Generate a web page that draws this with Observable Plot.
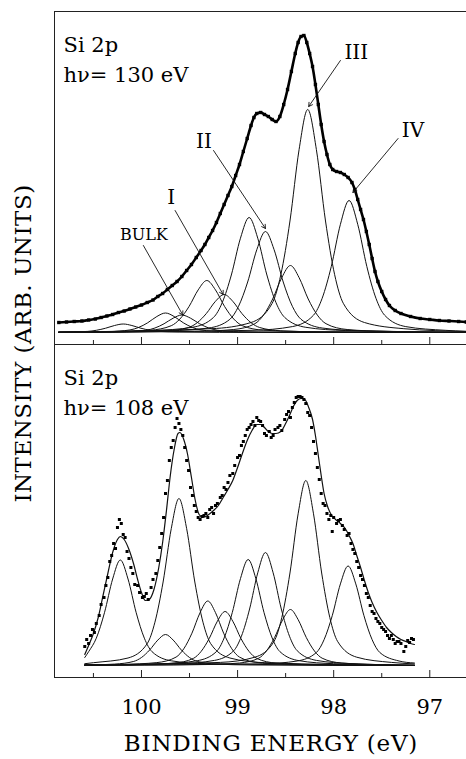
<!DOCTYPE html>
<html><head><meta charset="utf-8">
<script src="https://cdn.jsdelivr.net/npm/d3@7"></script>
<script src="https://cdn.jsdelivr.net/npm/@observablehq/plot@0.6"></script>
<style>
html,body{margin:0;padding:0;background:#fff;}
#wrap{position:relative;width:466px;height:759px;overflow:hidden;background:#fff;}
#wrap svg{display:block;}
#titles{position:absolute;left:0;top:0;pointer-events:none;}
</style></head>
<body><div id="wrap"></div>
<script>
const FONT = "'DejaVu Serif', serif";
const panels = ["130 eV", "108 eV"];
const panelText = ["Si 2p\nhν= 130 eV", "Si 2p\nhν= 108 eV"];
const majorTicks = [100, 99, 98, 97];
const minorTicks = [100.5, 99.5, 98.5, 97.5];
const xTitle = "BINDING ENERGY (eV)";
const yTitle = "INTENSITY (ARB. UNITS)";

// ---- hv = 130 eV : measured spectrum [binding energy, intensity]
const data130 = [[100.86,10],[100.78,10.5],[100.70,11],[100.62,11.5],[100.55,12.5],[100.48,13.5],[100.42,15],[100.36,16.5],[100.30,18],[100.24,20],[100.18,21.5],[100.12,23.5],[100.06,25.5],[100.00,27.5],[99.94,30],[99.88,32.5],[99.83,36],[99.78,39],[99.73,43],[99.68,47],[99.63,51],[99.58,56],[99.53,62],[99.48,68],[99.43,75],[99.38,82],[99.34,88],[99.30,95],[99.26,102],[99.22,110],[99.18,119],[99.14,128],[99.10,137],[99.06,146],[99.02,157],[98.98,168],[98.94,181],[98.90,194],[98.86,207],[98.83,215],[98.80,219],[98.76,220],[98.72,218],[98.68,216],[98.64,213],[98.60,211],[98.56,216],[98.52,228],[98.48,243],[98.44,261],[98.40,279],[98.37,290],[98.34,296],[98.31,297],[98.28,290],[98.25,279],[98.22,266],[98.19,248],[98.16,228],[98.13,208],[98.10,191],[98.07,178],[98.04,168],[98.01,163],[97.97,161],[97.93,160],[97.89,158],[97.85,155],[97.81,150],[97.78,143],[97.75,133],[97.72,123],[97.69,113],[97.66,101],[97.63,88],[97.60,74],[97.57,61],[97.54,51],[97.50,41],[97.46,33],[97.42,27],[97.36,22],[97.30,19],[97.20,16],[97.10,14],[97.00,13],[96.90,12],[96.80,11.5],[96.70,11],[96.62,10.5]];

// ---- hv = 130 eV : fitted components (2p3/2 "b", 2p1/2 "a")
const bulkA130 = [[100.86,0.3],[100.78,0.38],[100.56,1.1],[100.47,2.2],[100.375,4.25],[100.28,7.0],[100.19,8.5],[100.10,7.0],[100.005,4.25],[99.91,2.2],[99.82,1.1],[99.60,0.38],[99.19,0.14],[96.62,0]];
const bulkB130 = [[100.86,0.1],[100.58,0.3],[100.17,0.79],[99.95,2.3],[99.86,4.5],[99.765,8.75],[99.67,14.35],[99.58,17.5],[99.49,14.35],[99.395,8.75],[99.30,4.5],[99.21,2.3],[98.99,0.79],[98.58,0.3],[96.62,0]];
const iA130 = [[100.86,0.15],[100.75,0.33],[100.34,0.88],[100.12,2.55],[100.03,5.05],[99.935,9.75],[99.84,16],[99.75,19.5],[99.66,16],[99.565,9.75],[99.47,5.05],[99.38,2.55],[99.16,0.88],[98.75,0.33],[96.62,0]];
const iB130 = [[100.86,0.1],[100.14,0.65],[99.73,1.7],[99.51,5.0],[99.42,9.8],[99.325,19],[99.23,31.2],[99.14,38],[99.05,31.2],[98.955,19],[98.86,9.8],[98.77,5.0],[98.55,1.7],[98.14,0.65],[96.62,0]];
const iiA130 = [[100.86,0.2],[100.32,0.9],[99.91,2.3],[99.69,6.8],[99.60,13.5],[99.505,26],[99.41,42.6],[99.32,52],[99.23,42.6],[99.135,26],[99.04,13.5],[98.95,6.8],[98.73,2.3],[98.32,0.9],[96.62,0]];
const iiB130 = [[100.86,0.3],[99.71,1.7],[99.30,4.5],[99.08,13.2],[98.99,26.2],[98.895,50.5],[98.80,82.8],[98.71,101],[98.62,82.8],[98.525,50.5],[98.43,26.2],[98.34,13.2],[98.12,4.5],[97.71,1.7],[96.62,0.2]];
const iiiA130 = [[100.86,0.3],[99.88,2.0],[99.47,5.2],[99.25,15.1],[99.16,29.8],[99.065,57.5],[98.97,94.3],[98.88,115],[98.79,94.3],[98.695,57.5],[98.60,29.8],[98.51,15.1],[98.29,5.2],[97.88,2.0],[96.62,0.2]];
const iiiB130 = [[100.86,0.4],[99.27,3.8],[98.86,10],[98.64,29.2],[98.55,57.8],[98.455,111.5],[98.36,182.9],[98.27,223],[98.18,182.9],[98.085,111.5],[97.99,57.8],[97.90,29.2],[97.68,10],[97.27,3.8],[96.62,1.0]];
const ivA130 = [[100.86,0.2],[99.45,1.1],[99.04,3.0],[98.82,8.8],[98.73,17.4],[98.635,33.5],[98.54,54.9],[98.45,67],[98.36,54.9],[98.265,33.5],[98.17,17.4],[98.08,8.8],[97.86,3.0],[97.45,1.1],[96.62,0.2]];
const ivB130 = [[100.86,0.2],[98.84,2.2],[98.43,5.9],[98.21,17.3],[98.12,34.2],[98.025,66],[97.93,108.2],[97.84,132],[97.75,108.2],[97.655,66],[97.56,34.2],[97.47,17.3],[97.25,5.9],[96.84,2.2],[96.62,1.2]];

// ---- hv = 130 eV : peak labels and arrow tips
const peakNames = ["BULK", "I", "II", "III", "IV"];
const labelE = [99.975, 99.69, 99.35, 97.765, 97.175];
const labelI = [98, 135, 191, 280, 202];
const arrowFromE = [99.98, 99.65, 99.25, 97.93, 97.33];
const arrowFromI = [87, 122, 182, 272, 194];
const arrowToE = [99.57, 99.15, 98.71, 98.26, 97.80];
const arrowToI = [17.5, 38, 104, 226, 140];

// ---- hv = 108 eV : measured spectrum
const data108 = [[100.59,19],[100.57,26],[100.55,22],[100.53,30],[100.51,36],[100.49,33],[100.47,42],[100.44,50],[100.42,61],[100.39,68],[100.37,80],[100.35,88],[100.33,104],[100.31,110],[100.29,122],[100.27,117],[100.25,138],[100.23,146],[100.21,142],[100.19,131],[100.17,128],[100.15,114],[100.13,107],[100.11,98],[100.09,92],[100.07,81],[100.04,80],[100.02,73],[99.99,68],[99.97,69],[99.95,72],[99.93,66],[99.90,78],[99.88,86],[99.85,92],[99.83,105],[99.81,118],[99.79,132],[99.77,148],[99.75,172],[99.73,185],[99.71,205],[99.69,218],[99.67,225],[99.65,238],[99.63,247],[99.61,242],[99.59,236],[99.57,230],[99.55,218],[99.53,205],[99.51,195],[99.49,178],[99.47,170],[99.45,160],[99.43,154],[99.41,148],[99.39,146],[99.37,149],[99.35,150],[99.33,152],[99.31,148],[99.29,156],[99.27,158],[99.25,152],[99.23,160],[99.21,162],[99.18,168],[99.16,170],[99.14,178],[99.12,176],[99.10,183],[99.08,190],[99.05,192],[99.03,200],[99.00,208],[98.98,210],[98.96,220],[98.94,224],[98.92,230],[98.90,236],[98.88,238],[98.86,241],[98.84,244],[98.82,240],[98.80,248],[98.78,245],[98.76,244],[98.74,240],[98.72,232],[98.70,230],[98.67,234],[98.65,228],[98.63,230],[98.61,236],[98.58,238],[98.56,240],[98.54,235],[98.51,246],[98.49,251],[98.47,254],[98.45,248],[98.43,258],[98.41,263],[98.39,268],[98.37,269],[98.35,269],[98.33,268],[98.31,266],[98.29,262],[98.27,253],[98.25,250],[98.23,238],[98.21,224],[98.19,212],[98.17,198],[98.15,186],[98.13,172],[98.11,162],[98.09,160],[98.07,152],[98.05,146],[98.03,150],[98.015,134],[98.00,148],[97.97,142],[97.95,145],[97.93,146],[97.91,140],[97.89,136],[97.86,130],[97.84,132],[97.82,122],[97.80,116],[97.78,112],[97.76,104],[97.74,98],[97.72,90],[97.70,86],[97.68,80],[97.66,72],[97.64,68],[97.62,60],[97.60,54],[97.58,52],[97.56,47],[97.54,44],[97.52,42],[97.50,38],[97.48,36],[97.46,34],[97.44,30],[97.42,27],[97.40,30],[97.38,26],[97.36,22],[97.34,24],[97.32,24],[97.30,22],[97.27,14],[97.25,19],[97.23,25],[97.21,23],[97.19,27],[97.17,26]];

// ---- hv = 108 eV : total fit
const fit108 = [[100.59,11],[100.55,20],[100.50,32],[100.45,48],[100.40,70],[100.35,92],[100.30,113],[100.25,126],[100.22,129],[100.18,126],[100.13,116],[100.08,101],[100.04,86],[100.00,73],[99.96,65],[99.92,66],[99.87,76],[99.82,98],[99.78,123],[99.74,155],[99.70,190],[99.66,216],[99.62,232],[99.60,233],[99.56,226],[99.52,211],[99.48,188],[99.44,165],[99.40,151],[99.36,148],[99.30,151],[99.25,155],[99.20,160],[99.15,168],[99.10,176],[99.05,185],[99.00,198],[98.95,212],[98.90,225],[98.85,235],[98.80,241],[98.76,241],[98.72,238],[98.68,234],[98.64,232],[98.60,232],[98.55,234],[98.50,242],[98.46,250],[98.42,259],[98.38,265],[98.34,267],[98.30,266],[98.26,258],[98.22,246],[98.19,230],[98.16,210],[98.13,190],[98.10,172],[98.06,158],[98.02,150],[97.98,146],[97.93,142],[97.88,137],[97.84,130],[97.80,122],[97.76,110],[97.72,98],[97.68,85],[97.64,73],[97.60,63],[97.55,53],[97.50,45],[97.45,38],[97.40,33],[97.35,29],[97.30,26],[97.25,24],[97.20,22],[97.16,21]];

// ---- hv = 108 eV : fitted components
const bulkA108 = [[100.59,8],[100.55,13.8],[100.47,27.3],[100.385,52.8],[100.30,86.5],[100.22,105.5],[100.14,86.5],[100.055,52.8],[99.97,27.3],[99.89,13.8],[99.69,4.7],[99.33,1.8],[97.16,0]];
const bulkB108 = [[100.59,1.8],[100.50,2.8],[100.14,7.5],[99.94,21.9],[99.86,43.3],[99.775,83.5],[99.69,136.9],[99.61,167],[99.53,136.9],[99.445,83.5],[99.36,43.3],[99.28,21.9],[99.08,7.5],[98.72,2.8],[97.16,0]];
const iA108 = [[100.59,0.4],[100.28,1.4],[100.08,4.1],[100.00,8.0],[99.915,15.5],[99.83,25.4],[99.75,31],[99.67,25.4],[99.585,15.5],[99.50,8.0],[99.42,4.1],[99.22,1.4],[98.86,0.53],[97.16,0]];
const iB108 = [[100.59,0.3],[100.02,0.9],[99.66,2.4],[99.46,7.1],[99.38,14],[99.295,27],[99.21,44.3],[99.13,54],[99.05,44.3],[98.965,27],[98.88,14],[98.80,7.1],[98.60,2.4],[98.24,0.9],[97.16,0]];
const iiA108 = [[100.59,0.5],[100.20,1.1],[99.84,2.9],[99.64,8.4],[99.56,16.7],[99.475,32.3],[99.39,52.9],[99.31,64.5],[99.23,52.9],[99.145,32.3],[99.06,16.7],[98.98,8.4],[98.78,2.9],[98.42,1.1],[97.16,0]];
const iiB108 = [[100.59,0.4],[99.60,1.9],[99.24,5.1],[99.04,14.8],[98.96,29.3],[98.875,56.5],[98.79,92.7],[98.71,113],[98.63,92.7],[98.545,56.5],[98.46,29.3],[98.38,14.8],[98.18,5.1],[97.82,1.9],[97.16,0.3]];
const iiiA108 = [[100.59,0.5],[99.78,1.8],[99.42,4.8],[99.22,13.9],[99.14,27.5],[99.055,53],[98.97,86.9],[98.89,106],[98.81,86.9],[98.725,53],[98.64,27.5],[98.56,13.9],[98.36,4.8],[98.00,1.8],[97.16,0.2]];
const iiiB108 = [[100.59,0.4],[99.18,3.1],[98.82,8.3],[98.62,24.2],[98.54,47.9],[98.455,92.5],[98.37,151.7],[98.29,185],[98.21,151.7],[98.125,92.5],[98.04,47.9],[97.96,24.2],[97.76,8.3],[97.40,3.1],[97.16,1.6]];
const ivA108 = [[100.59,0.2],[99.34,0.95],[98.98,2.5],[98.78,7.3],[98.70,14.5],[98.615,28],[98.53,45.9],[98.45,56],[98.37,45.9],[98.285,28],[98.20,14.5],[98.12,7.3],[97.92,2.5],[97.56,0.95],[97.16,0.3]];
const ivB108 = [[100.59,0.2],[98.74,1.7],[98.38,4.5],[98.18,13],[98.10,25.8],[98.015,49.8],[97.93,81.6],[97.85,99.5],[97.77,81.6],[97.685,49.8],[97.60,25.8],[97.52,13],[97.32,4.5],[97.16,2.5]];

// ---- build tables
const rows = (pairs, panel, name) => pairs.map(([E, I]) => ({E, I, panel, name}));
const comps130 = {bulkA130, bulkB130, iA130, iB130, iiA130, iiB130, iiiA130, iiiB130, ivA130, ivB130};
const comps108 = {bulkA108, bulkB108, iA108, iB108, iiA108, iiB108, iiiA108, iiiB108, ivA108, ivB108};
const compRows = [
  ...Object.entries(comps130).flatMap(([k, v]) => rows(v, panels[0], k)),
  ...Object.entries(comps108).flatMap(([k, v]) => rows(v, panels[1], k))
];
const spec130 = rows(data130, panels[0], "data");
const spec108 = rows(data108, panels[1], "data");
const fitRows = rows(fit108, panels[1], "fit");
const labelRows = peakNames.map((t, i) => ({t, E: labelE[i], I: labelI[i], panel: panels[0], small: t === "BULK"}));
const arrowRows = peakNames.map((t, i) => ({x1: arrowFromE[i], y1: arrowFromI[i], x2: arrowToE[i], y2: arrowToI[i], panel: panels[0]}));
const panelRows = panels.map((p, i) => ({panel: p, text: panelText[i]}));

const chart = Plot.plot({
  width: 466, height: 722,
  marginTop: 11, marginBottom: 45, marginLeft: 54, marginRight: 0,
  style: {fontFamily: FONT, fontSize: "21px", color: "#000", background: "#fff"},
  x: {domain: [100.905, 96.618]},
  y: {domain: [-12, 321], axis: null},
  fy: {domain: panels, axis: null, padding: 0},
  marks: [
    Plot.frame({anchor: "left", stroke: "#222"}),
    Plot.frame({anchor: "top", stroke: "#222"}),
    Plot.frame({anchor: "bottom", stroke: "#222"}),
    Plot.tickX(majorTicks, {x: d => d, insetTop: 326, stroke: "#222"}),
    Plot.tickX(minorTicks, {x: d => d, insetTop: 329, stroke: "#222"}),
    Plot.axisX({ticks: majorTicks, tickSize: 0, tickPadding: 22, label: null, tickFormat: d => String(d), fontSize: 21}),
    Plot.line(compRows, {x: "E", y: "I", z: "name", fy: "panel", curve: "monotone-x", stroke: "#111", strokeWidth: 1}),
    Plot.line(fitRows, {x: "E", y: "I", fy: "panel", curve: "monotone-x", stroke: "#111", strokeWidth: 1.2}),
    Plot.line(spec130, {x: "E", y: "I", fy: "panel", curve: "monotone-x", stroke: "#000", strokeWidth: 2.6}),
    Plot.dot(spec130, {x: "E", y: "I", fy: "panel", symbol: "square", r: 1.9, fill: "#000", stroke: "none"}),
    Plot.dot(spec108, {x: "E", y: "I", fy: "panel", symbol: "square", r: 1.7, fill: "#000", stroke: "none"}),
    Plot.arrow(arrowRows, {x1: "x1", y1: "y1", x2: "x2", y2: "y2", fy: "panel", stroke: "#111", strokeWidth: 0.9, headLength: 7}),
    Plot.text(labelRows.filter(d => !d.small), {x: "E", y: "I", text: "t", fy: "panel", fontSize: 20, fill: "#000"}),
    Plot.text(labelRows.filter(d => d.small), {x: "E", y: "I", text: "t", fy: "panel", fontSize: 16, fill: "#000"}),
    Plot.text(panelRows, {text: "text", fy: "panel", frameAnchor: "top-left", dx: 9, dy: 20, lineAnchor: "top", textAnchor: "start", lineHeight: 1.4, fontSize: 21, fill: "#000"})
  ]
});

const wrap = document.getElementById("wrap");
wrap.append(chart);
const titles = d3.select(wrap).append("svg").attr("id", "titles")
  .attr("width", 466).attr("height", 759).style("font-family", FONT);
titles.append("text").attr("x", 271).attr("y", 751).attr("text-anchor", "middle")
  .attr("font-size", 23).attr("letter-spacing", "0.8px").attr("fill", "#000").text(xTitle);
titles.append("text").attr("transform", "translate(31,343.5) rotate(-90)").attr("text-anchor", "middle")
  .attr("font-size", 23).attr("letter-spacing", "0.5px").attr("fill", "#000").text(yTitle);
</script>
</body></html>
